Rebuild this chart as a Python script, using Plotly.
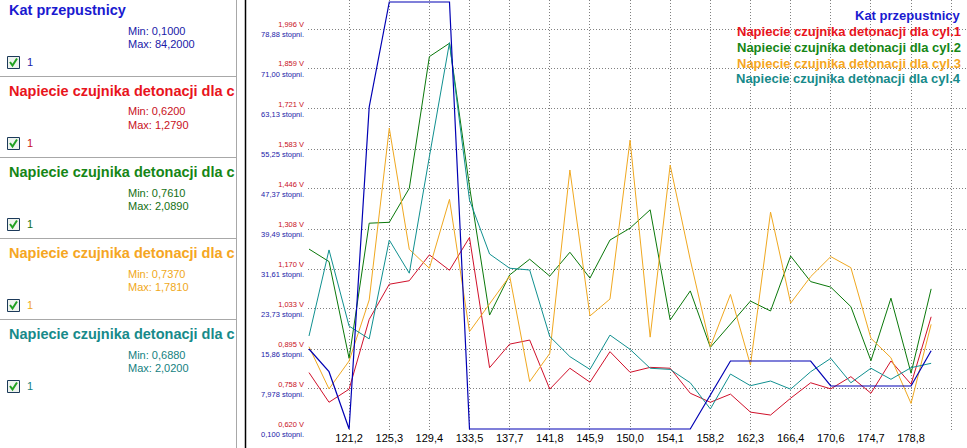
import plotly.graph_objects as go

# ---------------- data ----------------
time_s = [117.09, 119.14, 121.20, 123.26, 125.32, 127.37, 129.43, 131.49, 133.54, 135.60,
          137.66, 139.71, 141.77, 143.83, 145.89, 147.94, 150.00, 152.06, 154.11, 156.17,
          158.23, 160.29, 162.34, 164.40, 166.46, 168.51, 170.57, 172.63, 174.69, 176.74,
          178.80, 180.86]

kat_przepustnicy = [15.86, 11.39, 0.10, 63.52, 84.20, 84.20, 84.20, 84.20, 0.10, 0.10,
                    0.10, 0.10, 0.10, 0.10, 0.10, 0.10, 0.10, 0.10, 0.10, 0.10,
                    6.80, 13.49, 13.49, 13.49, 13.49, 13.49, 8.57, 8.57, 8.57, 8.57,
                    8.57, 15.52]

cyl1 = [0.814, 0.712, 0.757, 0.997, 1.118, 1.130, 1.219, 1.166, 1.279, 0.831,
        0.912, 0.926, 0.757, 0.829, 0.781, 0.886, 0.815, 0.832, 0.829, 0.743,
        0.712, 0.740, 0.678, 0.668, 0.726, 0.779, 0.758, 0.800, 0.743, 0.854,
        0.774, 1.006]

cyl2 = [1.239, 1.196, 0.863, 1.328, 1.331, 1.448, 1.901, 1.947, 1.454, 1.012,
        1.150, 1.204, 1.146, 1.228, 1.139, 1.270, 1.311, 1.374, 0.995, 1.095,
        0.901, 0.981, 1.060, 1.026, 1.215, 1.127, 1.108, 1.041, 0.855, 1.070,
        0.812, 1.102]

cyl3 = [0.903, 0.758, 0.854, 1.064, 1.655, 1.238, 1.173, 1.410, 0.955, 1.051,
        1.146, 0.783, 0.880, 1.511, 1.009, 1.067, 1.614, 0.936, 1.528, 1.202,
        0.903, 1.083, 0.840, 1.366, 1.053, 1.144, 1.213, 1.175, 0.932, 0.865,
        0.708, 0.980]

cyl4 = [0.940, 1.236, 0.974, 0.930, 1.270, 1.156, 1.557, 1.949, 1.408, 1.222,
        1.173, 1.167, 0.938, 0.869, 0.825, 0.943, 0.894, 0.829, 0.825, 0.779,
        0.689, 0.809, 0.769, 0.785, 0.757, 0.817, 0.863, 0.779, 0.829, 0.791,
        0.831, 0.846]

x_tickvals = [117.09, 121.20, 125.32, 129.43, 133.54, 137.66, 141.77, 145.89, 150.00,
              154.11, 158.23, 162.34, 166.46, 170.57, 174.69, 178.80, 182.91]
x_ticktext = ["", "121,2", "125,3", "129,4", "133,5", "137,7", "141,8", "145,9", "150,0",
              "154,1", "158,2", "162,3", "166,4", "170,6", "174,7", "178,8", ""]

v_tickvals = [0.620, 0.758, 0.895, 1.033, 1.170, 1.308, 1.446, 1.583, 1.721, 1.859, 1.996]
v_ticktext = ["0,620 V", "0,758 V", "0,895 V", "1,033 V", "1,170 V", "1,308 V",
              "1,446 V", "1,583 V", "1,721 V", "1,859 V", "1,996 V"]
deg_tickvals = [0.100, 7.978, 15.86, 23.73, 31.61, 39.49, 47.37, 55.25, 63.13, 71.00, 78.88]
deg_ticktext = ["0,100 stopni.", "7,978 stopni.", "15,86 stopni.", "23,73 stopni.",
                "31,61 stopni.", "39,49 stopni.", "47,37 stopni.", "55,25 stopni.",
                "63,13 stopni.", "71,00 stopni.", "78,88 stopni."]

series_names = ["Kat przepustnicy",
                "Napiecie czujnika detonacji dla cyl.1",
                "Napiecie czujnika detonacji dla cyl.2",
                "Napiecie czujnika detonacji dla cyl.3",
                "Napiecie czujnika detonacji dla cyl.4"]
panel_titles = ["Kat przepustnicy",
                "Napiecie czujnika detonacji dla c",
                "Napiecie czujnika detonacji dla c",
                "Napiecie czujnika detonacji dla c",
                "Napiecie czujnika detonacji dla c"]
panel_min = ["Min: 0,1000", "Min: 0,6200", "Min: 0,7610", "Min: 0,7370", "Min: 0,6880"]
panel_max = ["Max: 84,2000", "Max: 1,2790", "Max: 2,0890", "Max: 1,7810", "Max: 2,0200"]

# ---------------- styling ----------------
W, H = 967, 448
L, R, T, B = 308, 967, 0, 430
FONT = "Liberation Sans, Arial, sans-serif"
GRID_DASH = "1px,2px"
GRID_COLOR = "#808080"

line_colors = ["#0000b4", "#d0102a", "#0a780a", "#f0a820", "#109090"]
text_colors = ["#1a1ad0", "#e8141c", "#168616", "#f5a623", "#178a8a"]
small_colors = ["#2020a8", "#c8101c", "#147014", "#f0a820", "#147f7f"]


def px(xp):
    return (xp - L) / (R - L)


def py(yp):
    return (B - yp) / (B - T)


fig = go.Figure()
fig.add_trace(go.Scatter(x=time_s, y=kat_przepustnicy, mode="lines", yaxis="y2",
                         line=dict(color=line_colors[0], width=1.2), name=series_names[0]))
for ser, col, nm in zip([cyl1, cyl2, cyl3, cyl4], line_colors[1:], series_names[1:]):
    fig.add_trace(go.Scatter(x=time_s, y=ser, mode="lines", yaxis="y",
                             line=dict(color=col, width=1), name=nm))

x_lo = time_s[0] - (time_s[1] - time_s[0]) / 20
x_hi = time_s[0] + (R - 309) / 20 * (time_s[1] - time_s[0])
v_step = (v_tickvals[-1] - v_tickvals[0]) / 10
d_step = (deg_tickvals[-1] - deg_tickvals[0]) / 10
v_lo = v_tickvals[0] - v_step / 40
v_hi = v_tickvals[0] + 429 / 40 * v_step
d_lo = deg_tickvals[0] - d_step / 40
d_hi = deg_tickvals[0] + 429 / 40 * d_step

shapes = []
annotations = []

# left panel separators
shapes.append(dict(type="line", xref="paper", yref="paper", x0=px(236.5), x1=px(236.5),
                   y0=py(0), y1=py(H), line=dict(color="#a8a8a8", width=1)))
shapes.append(dict(type="line", xref="paper", yref="paper", x0=px(245.5), x1=px(245.5),
                   y0=py(0), y1=py(H), line=dict(color="#000000", width=1.5)))
for k in range(4):
    yy = 76.5 + 81 * k
    shapes.append(dict(type="line", xref="paper", yref="paper", x0=px(0), x1=px(236),
                       y0=py(yy), y1=py(yy), line=dict(color="#a8a8a8", width=1)))

for k in range(5):
    off = 81 * k
    annotations.append(dict(xref="paper", yref="paper", x=px(7), y=py(10 + off),
                            xanchor="left", yanchor="middle", showarrow=False,
                            text="<b>" + panel_titles[k] + "</b>",
                            font=dict(family=FONT, size=14.5, color=text_colors[k])))
    annotations.append(dict(xref="paper", yref="paper", x=px(126), y=py(30.5 + off),
                            xanchor="left", yanchor="middle", showarrow=False,
                            text=panel_min[k],
                            font=dict(family=FONT, size=11, color=small_colors[k])))
    annotations.append(dict(xref="paper", yref="paper", x=px(126), y=py(44 + off),
                            xanchor="left", yanchor="middle", showarrow=False,
                            text=panel_max[k],
                            font=dict(family=FONT, size=11, color=small_colors[k])))
    annotations.append(dict(xref="paper", yref="paper", x=px(25), y=py(62 + off),
                            xanchor="left", yanchor="middle", showarrow=False,
                            text="1",
                            font=dict(family=FONT, size=11, color=small_colors[k])))
    # checkbox
    shapes.append(dict(type="rect", xref="paper", yref="paper",
                       x0=px(7.5), x1=px(19.5), y0=py(56.5 + off), y1=py(68.5 + off),
                       line=dict(color="#1c3a5a", width=1), fillcolor="#eef3ee"))
    p = "M {} {} L {} {} L {} {}".format(px(10), py(62 + off), px(12.5), py(65.5 + off),
                                         px(17), py(58.5 + off))
    shapes.append(dict(type="path", xref="paper", yref="paper", path=p,
                       line=dict(color="#21a121", width=2)))

# legend text inside the plot
leg_y = [15.5, 31.5, 47.5, 63.3, 79]
for k in range(5):
    annotations.append(dict(xref="paper", yref="paper", x=px(963), y=py(leg_y[k]),
                            xanchor="right", yanchor="middle", showarrow=False,
                            text="<b>" + series_names[k] + "</b>",
                            font=dict(family=FONT, size=13, color=text_colors[k])))

fig.update_layout(
    width=W, height=H,
    margin=dict(l=L, r=W - R, t=T, b=H - B, pad=0),
    paper_bgcolor="white", plot_bgcolor="white",
    showlegend=False,
    xaxis=dict(range=[x_lo, x_hi], tickvals=x_tickvals, ticktext=x_ticktext,
               showgrid=True, gridcolor=GRID_COLOR, griddash=GRID_DASH, gridwidth=1,
               zeroline=False, showline=False, ticks="",
               tickfont=dict(family=FONT, size=11, color="#000000")),
    yaxis=dict(range=[v_lo, v_hi], tickvals=v_tickvals, ticktext=v_ticktext,
               showgrid=True, gridcolor=GRID_COLOR, griddash=GRID_DASH, gridwidth=1,
               zeroline=False, showline=False, ticks="", ticklabelshift=-5,
               ticklabelstandoff=3,
               tickfont=dict(family=FONT, size=7.5, color="#c8101c")),
    yaxis2=dict(range=[d_lo, d_hi], tickvals=deg_tickvals, ticktext=deg_ticktext,
                overlaying="y", side="left", anchor="x",
                showgrid=False, zeroline=False, showline=False, ticks="",
                ticklabelshift=5, ticklabelstandoff=3,
                tickfont=dict(family=FONT, size=7.5, color="#1a1aa8")),
    shapes=shapes, annotations=annotations,
)

fig.write_html("out.html",
               config={"displayModeBar": False},
               post_script="document.body.style.margin='0';document.body.style.padding='0';"
                           "document.body.style.overflow='hidden';")
